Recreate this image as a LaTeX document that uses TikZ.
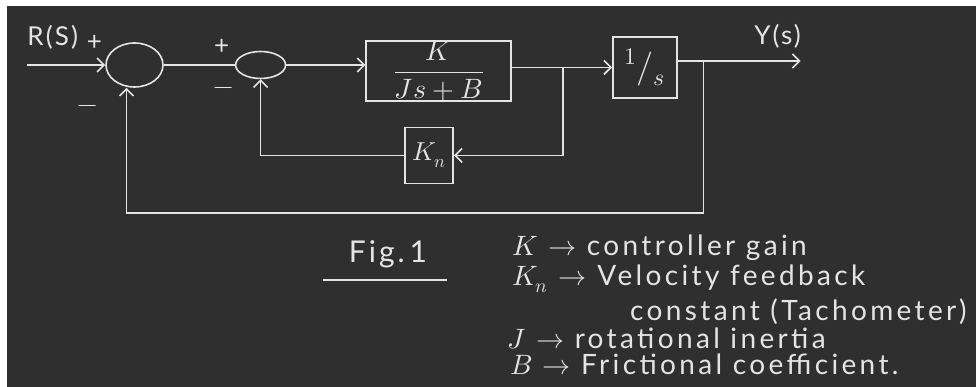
\documentclass[tikz,border=0pt]{standalone}
\usepackage{unicode-math}
\setmainfont{Lato}
\setmathfont{Latin Modern Math}
\usetikzlibrary{arrows.meta, positioning, calc, shapes.geometric}
\definecolor{board}{HTML}{2F2F2F}
\definecolor{chalk}{HTML}{E4E4E4}
\tikzset{
  sumnode/.style   = {draw=chalk, ellipse, line width=1.6pt, inner sep=0pt},
  blocknode/.style = {draw=chalk, rectangle, line width=1.6pt, inner sep=0pt,
                      text=chalk},
  signal/.style    = {-, line width=1.6pt, chalk},
  flow/.style      = {-{Straight Barb[length=7pt, width=14pt]}, line width=1.6pt, chalk},
  lbl/.style       = {inner sep=0pt, text=chalk,
                      font=\fontsize{26}{30}\selectfont\addfontfeatures{LetterSpace=8}},
  legend/.style    = {inner sep=0pt, text=chalk, anchor=base west,
                      font=\fontsize{28}{32}\selectfont\addfontfeatures{LetterSpace=12}},
}

\begin{document}
\begin{tikzpicture}[x=1pt, y=1pt]
    \useasboundingbox (0,0) rectangle (976,387);
    \fill[white] (0,0) rectangle (976,387);
    \fill[board] (7,0) rectangle (976,381);

    % loop blocks
    \node[sumnode, minimum width=57pt, minimum height=44pt] (sum1) at (134.5,322) {};
    \node[sumnode, minimum width=50pt, minimum height=27pt, right=71pt of sum1] (sum2) {};
    \node[blocknode, minimum width=145pt, minimum height=56pt, right=79pt of sum2, yshift=-6pt] (plant)
      {\fontsize{28}{30}\selectfont $\dfrac{K}{Js+B}$};
    \node[blocknode, minimum width=64pt, minimum height=61pt, right=100pt of plant, yshift=3.5pt] (integ)
      {\fontsize{34}{38}\selectfont $^{1}/_{s}$};
    \node[blocknode, minimum width=48pt, minimum height=56pt, below=25pt of plant, xshift=-9.5pt] (tacho)
      {\fontsize{26}{28}\selectfont $K_n$};

    \coordinate (in) at ($(sum1.west)+(-78pt,0)$);
    \coordinate (jv) at ($(integ.west)+(-49pt,0)$);
    \coordinate (jo) at ($(integ.east)+(26pt,6.5pt)$);
    \coordinate (out) at ($(jo)+(97pt,0)$);

    \draw[flow] (in) -- (sum1.west);
    \draw[signal] (sum1.east) -- (sum2.west);
    \draw[flow] (sum2.east) -- (sum2.east -| plant.west);
    \draw[signal] (plant.east |- jv) -- (jv);
    \draw[flow] (jv) -- (integ.west);
    \draw[flow] (jv) |- (tacho.east);
    \draw[flow] (tacho.west) -| (sum2.south);
    \draw[flow] (integ.east |- jo) -- (out);
    \draw[flow] (jo) -- ++(0,-152pt) -| ([xshift=-8pt]sum1.south);

    % signs and signals
    \node[lbl] (plus1) at ($(sum1)+(-40pt,22pt)$) {+};
    \node[lbl] (minus1) at ($(sum1)+(-47pt,-44pt)$) {$-$};
    \node[lbl] (plus2) at ($(sum2)+(-39pt,18pt)$) {+};
    \node[lbl] (minus2) at ($(sum2)+(-37pt,-26pt)$) {$-$};
    \node[lbl, anchor=south west] (rs) at ($(in)+(0,15pt)$) {R(S)};
    \node[lbl] (ys) at ($(out)+(-23pt,25pt)$) {Y(s)};

    % caption and legend
    \node[inner sep=0pt, text=chalk, anchor=base,
          font=\fontsize{30}{34}\selectfont\addfontfeatures{LetterSpace=10}] (fig) at (388,124) {Fig.\,1};
    \draw[signal] ($(fig.base)+(-65pt,-17pt)$) -- ($(fig.base)+(59pt,-17pt)$);
    \node[legend] (leg1) at (512,131) {$K$ $\rightarrow$ controller gain};
    \node[legend] (leg2) at (512,101) {$K_n$ $\rightarrow$ Velocity feedback};
    \node[legend] (leg3) at (630,66) {constant (Tachometer)};
    \node[legend] (leg4) at (507,38) {$J$ $\rightarrow$ rotational inertia};
    \node[legend] (leg5) at (510,12) {$B$ $\rightarrow$ Frictional coefficient.};
\end{tikzpicture}
\end{document}
